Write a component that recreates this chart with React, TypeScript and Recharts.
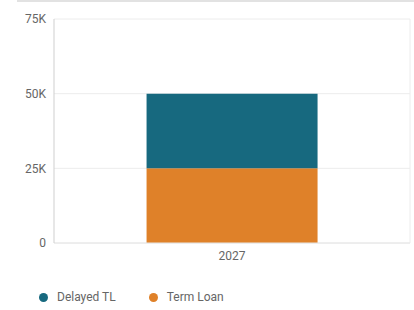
import React from 'react';
import {
  BarChart,
  Bar,
  XAxis,
  YAxis,
  CartesianGrid,
  Legend
} from 'recharts';

const years = ['2027'];
const termLoan = [25000];
const delayedTL = [25000];
const yTicks = [0, 25000, 50000, 75000];

const data = years.map((year, i) => ({
  year,
  termLoan: termLoan[i],
  delayedTL: delayedTL[i]
}));

const formatTick = (v: number) => (v === 0 ? '0' : `${v / 1000}K`);

const legendItems = [
  { name: 'Delayed TL', color: '#17697f' },
  { name: 'Term Loan', color: '#df8129' }
];

const renderLegend = () => (
  <div style={{ display: 'flex', alignItems: 'center', paddingLeft: 39, fontSize: 12, color: '#666' }}>
    {legendItems.map((item) => (
      <div key={item.name} style={{ display: 'flex', alignItems: 'center', marginRight: 33 }}>
        <span
          style={{
            width: 9,
            height: 9,
            borderRadius: '50%',
            background: item.color,
            display: 'inline-block',
            marginRight: 9
          }}
        />
        <span>{item.name}</span>
      </div>
    ))}
  </div>
);

export default function App() {
  return (
    <div
      style={{
        position: 'absolute',
        top: 0,
        left: 0,
        width: 414,
        height: 310,
        background: '#fff',
        fontFamily: 'Roboto, "Noto Sans", sans-serif'
      }}
    >
      <div style={{ position: 'absolute', top: 0, left: 17, right: 0, height: 2, background: '#e2e2e2' }} />
      <BarChart
        width={414}
        height={310}
        data={data}
        margin={{ top: 19, right: 4, left: 0, bottom: 6 }}
        barCategoryGap="26%"
      >
        <CartesianGrid
          stroke="#ececec"
          verticalCoordinatesGenerator={({ offset }: any) => [offset.left + offset.width]}
        />
        <XAxis
          dataKey="year"
          tickLine={false}
          axisLine={{ stroke: '#e6e6e6' }}
          tick={{ fill: '#666', fontSize: 12 }}
          height={47}
        />
        <YAxis
          width={54}
          domain={[0, 75000]}
          ticks={yTicks}
          tickFormatter={formatTick}
          tickLine={false}
          axisLine={{ stroke: '#cfcfcf' }}
          tick={{ fill: '#666', fontSize: 12 }}
        />
        <Legend verticalAlign="bottom" align="left" content={renderLegend} />
        <Bar dataKey="termLoan" name="Term Loan" stackId="a" fill="#df8129" isAnimationActive={false} />
        <Bar dataKey="delayedTL" name="Delayed TL" stackId="a" fill="#17697f" isAnimationActive={false} />
      </BarChart>
    </div>
  );
}
